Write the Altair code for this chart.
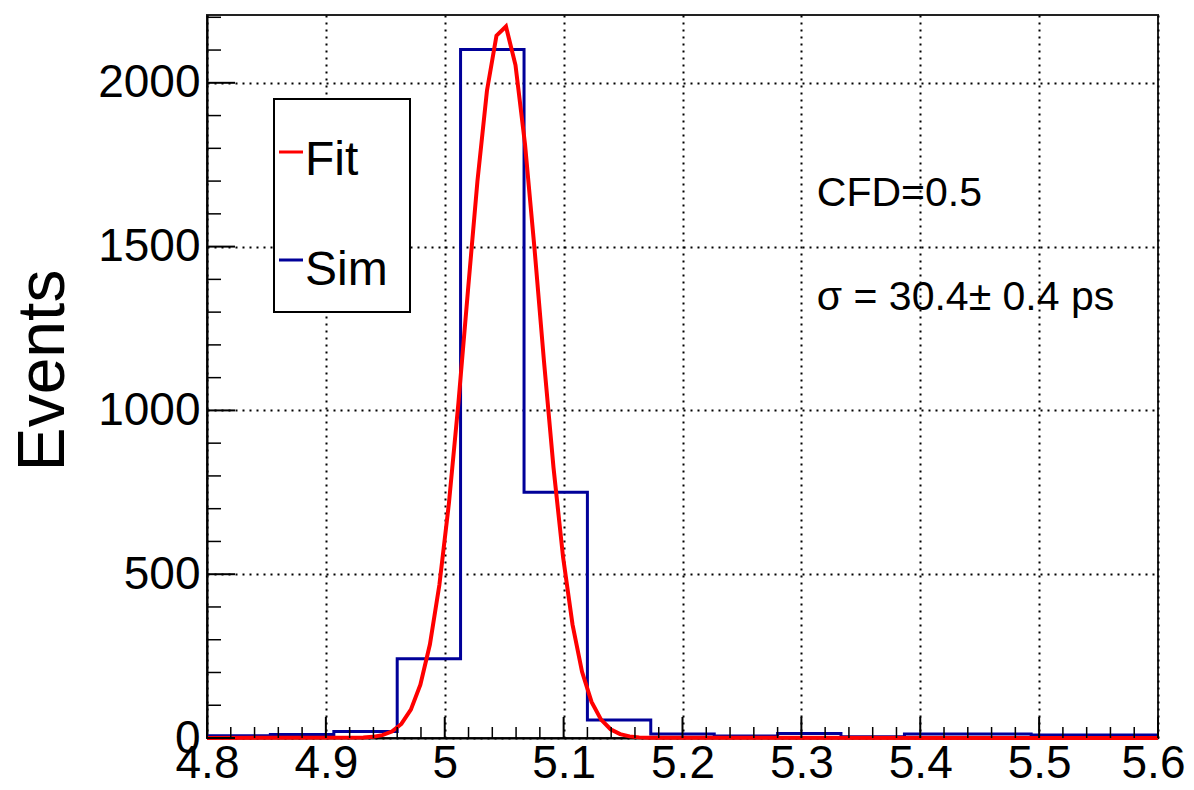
import altair as alt
import pandas as pd

# ---------------- data ----------------
bin_edges = [4.8, 4.8533, 4.9067, 4.96, 5.0133, 5.0667, 5.12, 5.1733,
             5.2267, 5.28, 5.3333, 5.3867, 5.44, 5.4933, 5.5467, 5.6]
sim_counts = [7, 11, 20, 242, 2102, 750, 55, 12, 6, 14, 4, 12, 12, 9, 9]

fit_x = [4.8, 4.9315, 4.9395, 4.9475, 4.9555, 4.9635, 4.9715, 4.9795, 4.9875,
         4.9955, 5.0035, 5.0115, 5.0195, 5.0275, 5.0355, 5.0435, 5.0515,
         5.0595, 5.0675, 5.0755, 5.0835, 5.0915, 5.0995, 5.1075, 5.1155,
         5.1235, 5.1315, 5.1395, 5.1475, 5.1555, 5.1635, 5.1715, 5.6]
fit_y = [0, 1.3, 3.5, 8.6, 19.8, 42.8, 86.4, 162.5, 285.4,
         467.8, 716.2, 1023, 1365, 1700, 1976, 2144, 2172,
         2054, 1813, 1494, 1149, 825, 553, 346, 202,
         110, 56, 26.7, 11.8, 4.9, 1.9, 0.7, 0]

x_major = [4.8, 4.9, 5.0, 5.1, 5.2, 5.3, 5.4, 5.5, 5.6]
y_major = [0, 500, 1000, 1500, 2000]
y_minor = [v for v in range(100, 2201, 100) if v % 500 != 0]
x_minor = [round(a + 0.02 * k, 3) for a in x_major[:-1] for k in range(1, 5)]

series_names = ["Fit", "Sim"]
series_colors = ["#ff0000", "#000099"]

ann_text = ["CFD=0.5", "σ = 30.4± 0.4 ps"]
ann_x = [5.313, 5.313]
ann_y = [1625, 1305]

# ---------------- chart ----------------
W, H = 951, 723
FONT = "Liberation Sans"

xs = alt.Scale(domain=[4.8, 5.6], nice=False, zero=False)
ys = alt.Scale(domain=[0, 2207], nice=False, zero=True)

x_axis = alt.Axis(
    values=x_major, format=".1~f", grid=True, gridDash=[2, 5],
    gridColor="black", gridWidth=2, gridOpacity=1,
    ticks=False, tickSize=0, labelFontSize=46, labelFont=FONT,
    labelColor="black", labelPadding=3, labelFlush=False,
    labelOffset={"condition": {"test": "datum.value >= 5.59", "value": -5},
                 "value": 0},
    labelOverlap=False, labelBound=False,
    domainColor="black", domainWidth=2, title="")
y_axis = alt.Axis(
    values=y_major, format="d", grid=True, gridDash=[2, 5],
    gridColor="black", gridWidth=2, gridOpacity=1,
    ticks=False, tickSize=0, labelFontSize=46, labelFont=FONT,
    labelColor="black", labelPadding=7, labelFlush=False,
    labelOverlap=False, labelBound=False,
    domainColor="black", domainWidth=2,
    title="Events", titleFont=FONT, titleFontSize=66,
    titleFontWeight="normal", titleColor="black", titleAngle=270,
    titleX=-144, titleY=355, titleAlign="center",
    titleBaseline="alphabetic")

hist_df = pd.DataFrame({"x": bin_edges, "y": sim_counts + [sim_counts[-1]]})
fit_df = pd.DataFrame({"x": fit_x, "y": fit_y})

hist = alt.Chart(hist_df).mark_line(
    interpolate="step-after", color=series_colors[1], strokeWidth=3
).encode(
    x=alt.X("x:Q", scale=xs, axis=x_axis),
    y=alt.Y("y:Q", scale=ys, axis=y_axis),
)

fit = alt.Chart(fit_df).mark_line(color=series_colors[0], strokeWidth=4).encode(
    x=alt.X("x:Q", scale=xs, axis=x_axis),
    y=alt.Y("y:Q", scale=ys, axis=y_axis),
)

def xticks(vals, length, width):
    return alt.Chart(pd.DataFrame({"x": vals})).mark_rule(
        color="black", strokeWidth=width
    ).encode(
        x=alt.X("x:Q", scale=xs, axis=x_axis),
        y=alt.value(H), y2=alt.value(H - length),
    )

def yticks(vals, length, width):
    return alt.Chart(pd.DataFrame({"y": vals})).mark_rule(
        color="black", strokeWidth=width
    ).encode(
        y=alt.Y("y:Q", scale=ys, axis=y_axis),
        x=alt.value(0), x2=alt.value(length),
    )

ticks = [xticks(x_major, 21, 2), xticks(x_minor, 11, 1.5),
         yticks(y_major, 28, 2), yticks(y_minor, 14, 1.5)]

# legend box
legend_box = alt.Chart(pd.DataFrame({"k": [0]})).mark_rect(
    fill="white", stroke="black", strokeWidth=2
).encode(x=alt.value(67), x2=alt.value(203), y=alt.value(84), y2=alt.value(297))

legend_parts = []
for i, (name, col) in enumerate(zip(series_names, series_colors)):
    d = pd.DataFrame({"label": [name]})
    legend_parts.append(
        alt.Chart(d).mark_rule(color=col, strokeWidth=3).encode(
            x=alt.value(72), x2=alt.value(96), y=alt.value(137 + 108 * i))
    )
    legend_parts.append(
        alt.Chart(d).mark_text(align="left", baseline="alphabetic",
                               fontSize=48, font=FONT, color="black").encode(
            x=alt.value(98), y=alt.value(160 + 110 * i), text="label:N")
    )

ann_df = pd.DataFrame({"t": ann_text, "x": ann_x, "y": ann_y})
ann = alt.Chart(ann_df).mark_text(
    align="left", baseline="alphabetic", fontSize=41, font=FONT, color="black"
).encode(
    x=alt.X("x:Q", scale=xs, axis=x_axis),
    y=alt.Y("y:Q", scale=ys, axis=y_axis),
    text="t:N",
)

chart = alt.layer(hist, fit, *ticks, legend_box, *legend_parts, ann).properties(
    width=W, height=H,
    autosize=alt.AutoSizeParams(type="none"),
    padding={"left": 199, "top": 7, "right": 28, "bottom": 50},
    background="white",
).configure_view(stroke="#222222", strokeWidth=2)

chart.save("out.html", embed_options={"renderer": "svg", "actions": False})
